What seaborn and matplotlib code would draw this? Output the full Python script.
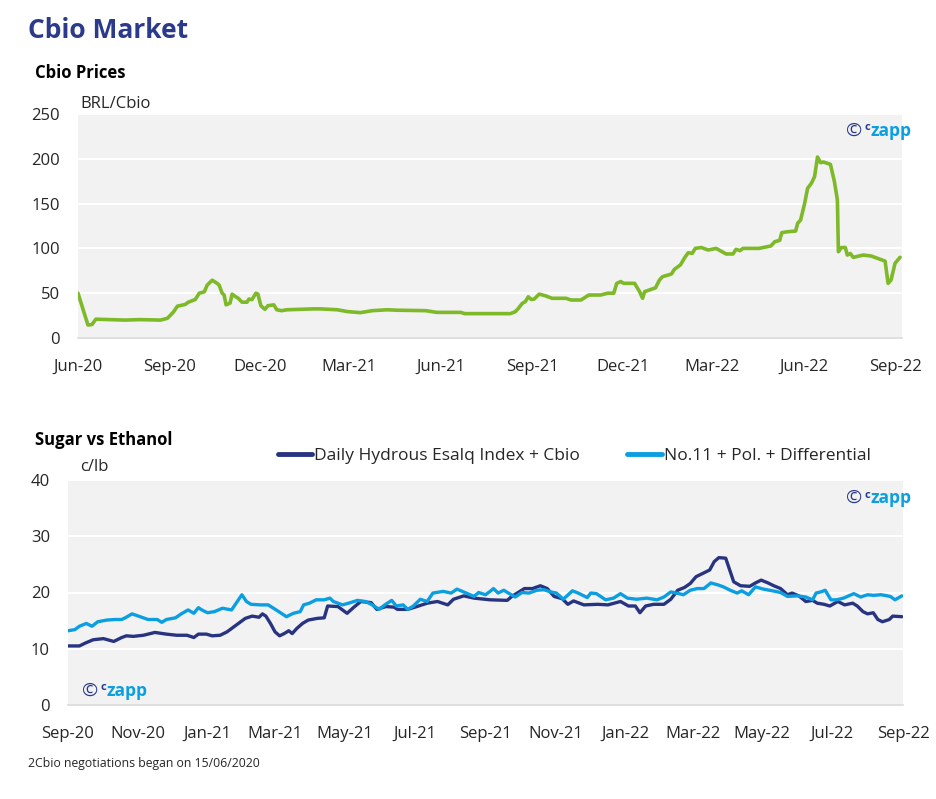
import pandas as pd
import numpy as np
import matplotlib.pyplot as plt
import matplotlib.dates as mdates
import seaborn as sns

# ── Dados: preço do Cbio (BRL/Cbio) ──────────────────────────────────────────
cbio_datas = [
    '2020-06-15', '2020-06-25', '2020-06-29', '2020-07-03', '2020-07-17', '2020-08-01',
    '2020-08-16', '2020-09-06', '2020-09-13', '2020-09-19', '2020-09-23', '2020-10-01',
    '2020-10-04', '2020-10-11', '2020-10-15', '2020-10-20', '2020-10-23', '2020-10-28',
    '2020-11-02', '2020-11-04', '2020-11-07', '2020-11-09', '2020-11-11', '2020-11-15',
    '2020-11-17', '2020-11-20', '2020-11-23', '2020-11-27', '2020-12-02', '2020-12-04',
    '2020-12-07', '2020-12-11', '2020-12-13', '2020-12-16', '2020-12-20', '2020-12-23',
    '2020-12-29', '2021-01-01', '2021-01-06', '2021-01-11', '2021-02-07', '2021-02-14',
    '2021-03-03', '2021-03-13', '2021-03-26', '2021-04-07', '2021-04-22', '2021-05-03',
    '2021-05-31', '2021-06-11', '2021-07-05', '2021-07-09', '2021-08-24', '2021-08-29',
    '2021-09-01', '2021-09-05', '2021-09-08', '2021-09-11', '2021-09-14', '2021-09-17',
    '2021-09-22', '2021-09-28', '2021-10-05', '2021-10-19', '2021-10-24', '2021-11-03',
    '2021-11-11', '2021-11-23', '2021-11-30', '2021-12-06', '2021-12-09', '2021-12-13',
    '2021-12-16', '2021-12-27', '2022-01-01', '2022-01-04', '2022-01-06', '2022-01-11',
    '2022-01-17', '2022-01-21', '2022-01-24', '2022-02-02', '2022-02-05', '2022-02-11',
    '2022-02-16', '2022-02-19', '2022-02-23', '2022-02-26', '2022-03-04', '2022-03-11',
    '2022-03-19', '2022-03-29', '2022-04-05', '2022-04-08', '2022-04-12', '2022-04-15',
    '2022-05-01', '2022-05-13', '2022-05-17', '2022-05-22', '2022-05-24', '2022-05-29',
    '2022-06-07', '2022-06-09', '2022-06-12', '2022-06-16', '2022-06-19', '2022-06-23',
    '2022-06-26', '2022-06-29', '2022-07-02', '2022-07-05', '2022-07-12', '2022-07-16',
    '2022-07-19', '2022-07-20', '2022-07-23', '2022-07-27', '2022-07-29', '2022-08-01',
    '2022-08-04', '2022-08-14', '2022-08-22', '2022-09-02', '2022-09-05', '2022-09-08',
    '2022-09-11', '2022-09-15', '2022-09-20',
]
cbio_precos = [
    50, 14.5, 15, 21, 20.5, 20,
    20.5, 20, 22, 29, 35.5, 37.5,
    40, 43, 50, 51.5, 59, 64.5,
    61, 59, 50, 48, 37, 39,
    49, 46.5, 44.5, 40, 40, 43.5,
    42.8, 50, 49, 36, 32, 36,
    37, 31.5, 30.5, 31.5, 32.5, 32.5,
    31.5, 29.5, 28.3, 30.5, 31.5, 31,
    30.5, 28.6, 28.6, 27.2, 27.2, 29.4,
    33, 38.7, 40.6, 46, 43, 43.5,
    49, 47.2, 44.3, 44.3, 42.4, 42.4,
    48, 48, 50, 50, 61, 63,
    61, 61, 51.7, 44.3, 51.7, 53.6,
    56, 64.7, 68.4, 71.4, 76.6, 81.5,
    90.7, 95.2, 94.5, 100, 101, 98.2,
    100, 93.8, 93.8, 99, 97.5, 100,
    100, 102.7, 107.5, 109, 117.5, 118.5,
    119.4, 128, 131.7, 150, 167, 173,
    180, 202, 195.7, 196.4, 193.8, 174.5,
    154, 96.3, 101, 101, 92.6, 94.3,
    90, 92.6, 91.5, 87, 85.8, 61,
    64.7, 83.4, 90,
]

# ── Dados: açúcar vs etanol (c/lb) ───────────────────────────────────────────
hidratado_datas = [
    '2020-09-01', '2020-09-11', '2020-09-16', '2020-09-23', '2020-10-02', '2020-10-11',
    '2020-10-18', '2020-10-22', '2020-10-28', '2020-11-06', '2020-11-16', '2020-11-26',
    '2020-12-05', '2020-12-14', '2020-12-20', '2020-12-24', '2020-12-31', '2021-01-05',
    '2021-01-12', '2021-01-18', '2021-01-22', '2021-01-28', '2021-02-03', '2021-02-09',
    '2021-02-15', '2021-02-18', '2021-02-21', '2021-02-25', '2021-03-01', '2021-03-05',
    '2021-03-09', '2021-03-13', '2021-03-16', '2021-03-20', '2021-03-25', '2021-03-30',
    '2021-04-07', '2021-04-13', '2021-04-16', '2021-04-25', '2021-05-03', '2021-05-09',
    '2021-05-15', '2021-05-24', '2021-05-29', '2021-06-06', '2021-06-13', '2021-06-16',
    '2021-06-25', '2021-07-03', '2021-07-12', '2021-07-21', '2021-07-30', '2021-08-04',
    '2021-08-13', '2021-08-22', '2021-09-05', '2021-09-20', '2021-09-24', '2021-10-05',
    '2021-10-12', '2021-10-19', '2021-10-25', '2021-10-31', '2021-11-07', '2021-11-12',
    '2021-11-17', '2021-11-26', '2021-12-08', '2021-12-17', '2021-12-28', '2022-01-04',
    '2022-01-10', '2022-01-14', '2022-01-19', '2022-01-26', '2022-02-04', '2022-02-10',
    '2022-02-16', '2022-02-22', '2022-02-27', '2022-03-04', '2022-03-10', '2022-03-16',
    '2022-03-20', '2022-03-24', '2022-03-30', '2022-04-02', '2022-04-06', '2022-04-12',
    '2022-04-20', '2022-04-25', '2022-04-30', '2022-05-06', '2022-05-11', '2022-05-17',
    '2022-05-23', '2022-05-27', '2022-06-02', '2022-06-08', '2022-06-14', '2022-06-18',
    '2022-06-24', '2022-06-29', '2022-07-06', '2022-07-12', '2022-07-19', '2022-07-23',
    '2022-07-28', '2022-08-01', '2022-08-06', '2022-08-10', '2022-08-14', '2022-08-20',
    '2022-08-23', '2022-08-31',
]
hidratado_valores = [
    10.5, 10.5, 11, 11.6, 11.8, 11.3,
    12, 12.3, 12.2, 12.4, 12.9, 12.6,
    12.4, 12.4, 12, 12.6, 12.6, 12.3,
    12.4, 13, 13.6, 14.5, 15.4, 15.8,
    15.6, 16.2, 15.8, 14.5, 13, 12.3,
    12.7, 13.2, 12.7, 13.6, 14.5, 15.1,
    15.4, 15.5, 17.6, 17.5, 16.3, 17.4,
    18.4, 18.2, 17, 17.5, 17.4, 17,
    17, 17.5, 18.1, 18.4, 17.8, 18.8,
    19.4, 19, 18.7, 18.6, 19.3, 20.7,
    20.7, 21.2, 20.7, 19.3, 18.9, 17.9,
    18.5, 17.8, 17.9, 17.8, 18.4, 17.6,
    17.6, 16.4, 17.6, 17.9, 17.9, 18.8,
    20.4, 20.9, 21.6, 22.8, 23.4, 24,
    25.5, 26.2, 26.1, 24.3, 21.9, 21.2,
    21.1, 21.7, 22.2, 21.7, 21.2, 20.7,
    19.6, 19.9, 19.4, 18.4, 18.6, 18.1,
    17.9, 17.6, 18.4, 17.8, 18.1, 17.6,
    16.6, 16.2, 16.4, 15.2, 14.8, 15.2,
    15.8, 15.7,
]

no11_datas = [
    '2020-09-01', '2020-09-07', '2020-09-11', '2020-09-17', '2020-09-22', '2020-09-27',
    '2020-10-05', '2020-10-12', '2020-10-18', '2020-10-21', '2020-10-27', '2020-11-03',
    '2020-11-10', '2020-11-18', '2020-11-22', '2020-11-26', '2020-12-04', '2020-12-09',
    '2020-12-15', '2020-12-20', '2020-12-24', '2020-12-27', '2021-01-01', '2021-01-07',
    '2021-01-14', '2021-01-22', '2021-01-26', '2021-01-31', '2021-02-04', '2021-02-08',
    '2021-02-16', '2021-02-23', '2021-03-02', '2021-03-11', '2021-03-17', '2021-03-23',
    '2021-03-26', '2021-03-31', '2021-04-06', '2021-04-13', '2021-04-18', '2021-04-21',
    '2021-04-29', '2021-05-06', '2021-05-12', '2021-05-19', '2021-05-25', '2021-05-31',
    '2021-06-05', '2021-06-11', '2021-06-15', '2021-06-21', '2021-06-25', '2021-06-30',
    '2021-07-06', '2021-07-12', '2021-07-17', '2021-07-26', '2021-08-02', '2021-08-07',
    '2021-08-14', '2021-08-22', '2021-08-26', '2021-09-01', '2021-09-05', '2021-09-08',
    '2021-09-12', '2021-09-17', '2021-09-21', '2021-09-27', '2021-10-03', '2021-10-09',
    '2021-10-16', '2021-10-22', '2021-10-28', '2021-11-02', '2021-11-08', '2021-11-16',
    '2021-11-21', '2021-11-29', '2021-12-02', '2021-12-07', '2021-12-15', '2021-12-22',
    '2021-12-28', '2022-01-03', '2022-01-11', '2022-01-20', '2022-01-29', '2022-02-04',
    '2022-02-10', '2022-02-15', '2022-02-21', '2022-02-27', '2022-03-05', '2022-03-11',
    '2022-03-17', '2022-03-24', '2022-03-28', '2022-04-03', '2022-04-09', '2022-04-13',
    '2022-04-19', '2022-04-25', '2022-05-02', '2022-05-10', '2022-05-17', '2022-05-23',
    '2022-06-01', '2022-06-08', '2022-06-14', '2022-06-17', '2022-06-21', '2022-06-25',
    '2022-06-30', '2022-07-05', '2022-07-11', '2022-07-20', '2022-07-26', '2022-08-01',
    '2022-08-06', '2022-08-13', '2022-08-21', '2022-08-25', '2022-08-31',
]
no11_valores = [
    13.2, 13.4, 14, 14.5, 14, 14.8,
    15.1, 15.2, 15.2, 15.5, 16.2, 15.7,
    15.2, 15.2, 14.7, 15.2, 15.5, 16.2,
    16.9, 16.3, 17.3, 16.9, 16.4, 16.6,
    17.2, 16.9, 18.1, 19.6, 18.4, 17.9,
    17.8, 17.8, 16.9, 15.7, 16.3, 16.6,
    17.8, 18.1, 18.7, 18.7, 19, 18.4,
    17.8, 18.2, 18.6, 18.4, 17.8, 17,
    17.8, 18.6, 17.6, 17.8, 17, 17.6,
    18.8, 18.4, 19.9, 20.2, 19.9, 20.6,
    20, 19.3, 20, 19.6, 20.2, 20.7,
    19.9, 20.4, 19.9, 19.2, 20, 19.9,
    20.4, 20.5, 20.1, 19.9, 18.8, 20.3,
    19.9, 19.1, 19.9, 19.8, 18.7, 19,
    19.8, 19, 18.8, 19, 18.7, 19.2,
    20.1, 19.9, 19.6, 20.4, 20.7, 20.7,
    21.7, 21.3, 21, 20.4, 19.9, 20.3,
    19.6, 21, 20.6, 20.3, 20, 19.3,
    19.4, 19.2, 18.7, 19.9, 20.1, 20.4,
    18.7, 18.7, 19, 19.8, 19.2, 19.6,
    19.5, 19.6, 19.3, 18.7, 19.4,
]

serie_hidratado = 'Daily Hydrous Esalq Index + Cbio'
serie_no11 = 'No.11 + Pol. + Differential'

# ── Cores ─────────────────────────────────────────────────────────────────────
VERDE = '#7DB928'
AZUL_ESC = '#283480'
AZUL_CLARO = '#0B9FE1'
NAVY_TITULO = '#2B3A8A'
FUNDO = '#F2F2F2'
CINZA_EIXO = '#D9D9D9'

sns.set_style('white')
plt.rcParams['font.family'] = ['Open Sans', 'DejaVu Sans']

df_cbio = pd.DataFrame({'data': pd.to_datetime(cbio_datas), 'preco': cbio_precos})
df_acucar = pd.concat([
    pd.DataFrame({'data': pd.to_datetime(hidratado_datas), 'valor': hidratado_valores,
                  'serie': serie_hidratado}),
    pd.DataFrame({'data': pd.to_datetime(no11_datas), 'valor': no11_valores,
                  'serie': serie_no11}),
], ignore_index=True)

W, H = 937, 799
fig = plt.figure(figsize=(W / 100, H / 100), dpi=100)


def px(x, y):
    """Converte pixels (origem no topo) para coordenadas da figura."""
    return x / W, 1 - y / H


def estilo_eixo(ax):
    ax.set_facecolor(FUNDO)
    for s in ['top', 'right', 'left']:
        ax.spines[s].set_visible(False)
    ax.spines['bottom'].set_color(CINZA_EIXO)
    ax.spines['bottom'].set_linewidth(1.2)
    ax.grid(axis='y', color='white', linewidth=1.5)
    ax.grid(axis='x', visible=False)
    ax.tick_params(axis='y', length=0, pad=13, labelsize=12)
    ax.tick_params(axis='x', length=5, color=CINZA_EIXO, width=1.2, pad=10, labelsize=12)
    ax.set_xlabel('')
    ax.set_ylabel('')
    ax.set_axisbelow(True)


def logo(x, y):
    fig.text(*px(x, y), '©', fontsize=14, color=NAVY_TITULO, va='center', ha='left')
    fig.text(*px(x + 19, y - 3), 'c', fontsize=8, color=NAVY_TITULO, va='center',
             ha='left', fontweight='bold')
    fig.text(*px(x + 25, y), 'zapp', fontsize=12.5, color=AZUL_CLARO, va='center',
             ha='left', fontweight='bold')


# ── Gráfico 1: preços do Cbio ────────────────────────────────────────────────
ax1 = fig.add_axes([78 / W, 1 - 338 / H, 824 / W, 224 / H])
sns.lineplot(data=df_cbio, x='data', y='preco', ax=ax1, color=VERDE, linewidth=2.6)
estilo_eixo(ax1)
ax1.set_ylim(0, 250)
ax1.set_yticks([0, 50, 100, 150, 200, 250])
ax1.set_xlim(pd.Timestamp('2020-06-15'), pd.Timestamp('2022-09-22'))
ax1.xaxis.set_major_locator(mdates.MonthLocator(bymonth=[3, 6, 9, 12], bymonthday=15))
ax1.xaxis.set_major_formatter(mdates.DateFormatter('%b-%y'))

# ── Gráfico 2: açúcar vs etanol ──────────────────────────────────────────────
ax2 = fig.add_axes([68 / W, 1 - 705 / H, 835 / W, 225 / H])
sns.lineplot(data=df_acucar, x='data', y='valor', hue='serie', ax=ax2,
             palette={serie_hidratado: AZUL_ESC, serie_no11: AZUL_CLARO},
             hue_order=[serie_hidratado, serie_no11], linewidth=2.4)
estilo_eixo(ax2)
ax2.set_ylim(0, 40)
ax2.set_yticks([0, 10, 20, 30, 40])
ax2.set_xlim(pd.Timestamp('2020-09-01'), pd.Timestamp('2022-09-01'))
ax2.xaxis.set_major_locator(mdates.MonthLocator(bymonth=[1, 3, 5, 7, 9, 11], bymonthday=1))
ax2.xaxis.set_major_formatter(mdates.DateFormatter('%b-%y'))
handles, labels = ax2.get_legend_handles_labels()
ax2.get_legend().remove()
for h in handles:
    h.set_linewidth(3.5)
fig.legend(handles, labels, loc='center left', bbox_to_anchor=px(262, 456),
           ncol=2, frameon=False, fontsize=12.5, handlelength=2.0,
           handletextpad=0.12, columnspacing=2.7)

# ── Textos ────────────────────────────────────────────────────────────────────
fig.text(*px(28, 30), 'Cbio Market', fontsize=19, fontweight='bold',
         color=NAVY_TITULO, va='center', ha='left')
fig.text(*px(35, 73), 'Cbio Prices', fontsize=12, fontweight='bold',
         color='black', va='center', ha='left')
fig.text(*px(80, 104), 'BRL/Cbio', fontsize=12, va='center', ha='left')
fig.text(*px(35, 440), 'Sugar vs Ethanol', fontsize=12, fontweight='bold',
         color='black', va='center', ha='left')
fig.text(*px(80, 467), 'c/lb', fontsize=12, va='center', ha='left')
fig.text(*px(28, 763), '2Cbio negotiations began on 15/06/2020', fontsize=8.8,
         va='center', ha='left')

logo(846, 131)
logo(846, 498)
logo(82, 691)

plt.savefig('out.png', dpi=100)
plt.close()
